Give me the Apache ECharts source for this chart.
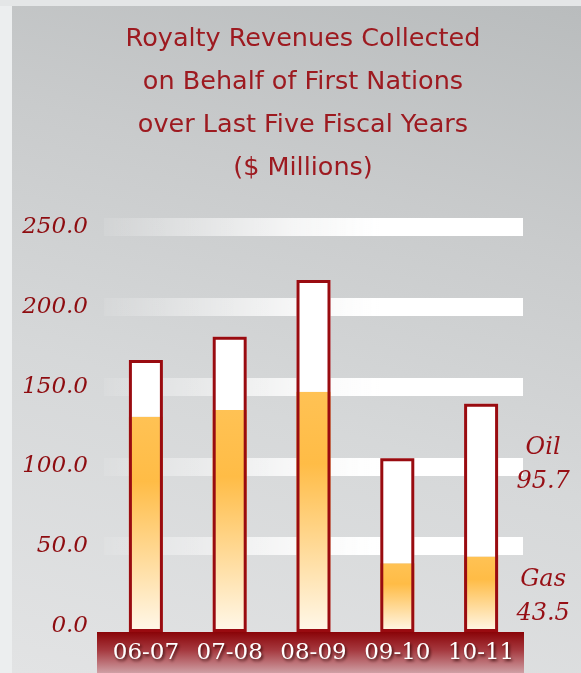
<!DOCTYPE html>
<html><head><meta charset="utf-8">
<script src="https://cdn.jsdelivr.net/npm/echarts@6/dist/echarts.min.js"></script>
<style>
html,body{margin:0;padding:0;background:#eceeef;}
#frame{position:absolute;left:0;top:0;width:581px;height:673px;background:linear-gradient(180deg,#e4e6e7 0,#e4e6e7 6px,#eceeef 6px);}
#panel{position:absolute;left:12px;top:6px;width:569px;height:667px;background:linear-gradient(195deg,#b9bcbd 0%,#c9cbcc 30%,#d6d8d9 60%,#e2e3e4 100%);}
#chart{position:absolute;left:0;top:0;width:581px;height:673px;}
</style></head>
<body><div id="frame"></div><div id="panel"></div><div id="chart"></div>
<script>
const titleLines = ['Royalty Revenues Collected','on Behalf of First Nations','over Last Five Fiscal Years','($ Millions)'];
const categories = ['06-07','07-08','08-09','09-10','10-11'];
const gasValues = [131.1, 135.3, 146.8, 39.3, 43.5];
const oilValues = [35.6, 46.0, 70.0, 65.8, 95.7];
const yLabelValues = [0, 50, 100, 150, 200, 250];
const bandValues = [50, 100, 150, 200, 250];

const totals = gasValues.map((g, i) => +(g + oilValues[i]).toFixed(1));
const last = categories.length - 1;

const sideLabel = (offsetY) => ({
  show: true, position: 'right', distance: 45, align: 'center', verticalAlign: 'middle',
  offset: [0, offsetY],
  formatter: p => p.seriesName + '\n' + Number(p.value).toFixed(1),
  fontFamily: 'DejaVu Serif', fontStyle: 'italic', fontSize: 24, lineHeight: 34, color: '#970f15'
});

const chart = echarts.init(document.getElementById('chart'), null, {renderer: 'canvas'});
chart.setOption({
  backgroundColor: 'transparent',
  animation: false,
  title: {
    text: titleLines.join('\n'),
    left: 298, top: 13, textAlign: 'center',
    textStyle: {fontFamily: 'DejaVu Sans', fontSize: 25.5, fontWeight: 'normal', color: '#9d1a20', lineHeight: 43}
  },
  grid: {left: 104, right: 58, top: 227, bottom: 41, containLabel: false},
  xAxis: {
    type: 'category', data: categories, z: 20,
    axisLine: {show: false}, axisTick: {show: false},
    axisLabel: {
      interval: 0,
      color: '#ffffff', fontFamily: 'DejaVu Serif', fontSize: 23, margin: 10,
      textShadowColor: 'rgba(40,0,0,0.8)', textShadowBlur: 3, textShadowOffsetX: 1.5, textShadowOffsetY: 1.5
    }
  },
  yAxis: {
    type: 'value', min: -3.75, max: 250, startValue: -3.75,
    axisLine: {show: false},
    axisTick: {show: false, customValues: bandValues},
    axisLabel: {
      customValues: yLabelValues, formatter: v => v.toFixed(1), margin: 16,
      fontFamily: 'DejaVu Serif', fontStyle: 'italic', fontSize: 23, color: '#8e0c10'
    },
    splitLine: {
      show: true,
      lineStyle: {
        width: 18,
        color: new echarts.graphic.LinearGradient(0, 0, 1, 0, [
          {offset: 0, color: 'rgba(255,255,255,0.05)'},
          {offset: 0.45, color: 'rgba(255,255,255,0.8)'},
          {offset: 0.65, color: 'rgba(255,255,255,1)'},
          {offset: 1, color: 'rgba(255,255,255,1)'}
        ])
      }
    }
  },
  graphic: [{
    type: 'rect', z: 10, silent: true,
    shape: {x: 97, y: 632, width: 427, height: 41},
    style: {fill: new echarts.graphic.LinearGradient(0, 0, 0, 1, [
      {offset: 0, color: '#8a0408'},
      {offset: 0.45, color: '#a63a40'},
      {offset: 1, color: '#cfa0a5'}
    ])}
  }],
  series: [
    {
      name: 'Gas', type: 'bar', stack: 'total', barWidth: 34, barGap: '-100%',
      itemStyle: {color: new echarts.graphic.LinearGradient(0, 0, 0, 1, [
        {offset: 0, color: '#ffc254'},
        {offset: 0.3, color: '#ffbc46'},
        {offset: 1, color: '#fff8ea'}
      ])},
      data: gasValues.map((v, i) => i === last ? {value: v, label: sideLabel(2)} : v)
    },
    {
      name: 'Oil', type: 'bar', stack: 'total', barWidth: 34, barGap: '-100%',
      itemStyle: {color: '#ffffff'},
      data: oilValues.map((v, i) => i === last ? {value: v, label: sideLabel(-15)} : v)
    },
    {
      name: 'Total', type: 'bar', barWidth: 34, barGap: '-100%', z: 5, silent: true,
      itemStyle: {color: 'rgba(0,0,0,0)', borderColor: '#990b10', borderWidth: 3},
      data: totals
    }
  ]
});
</script>
</body></html>
